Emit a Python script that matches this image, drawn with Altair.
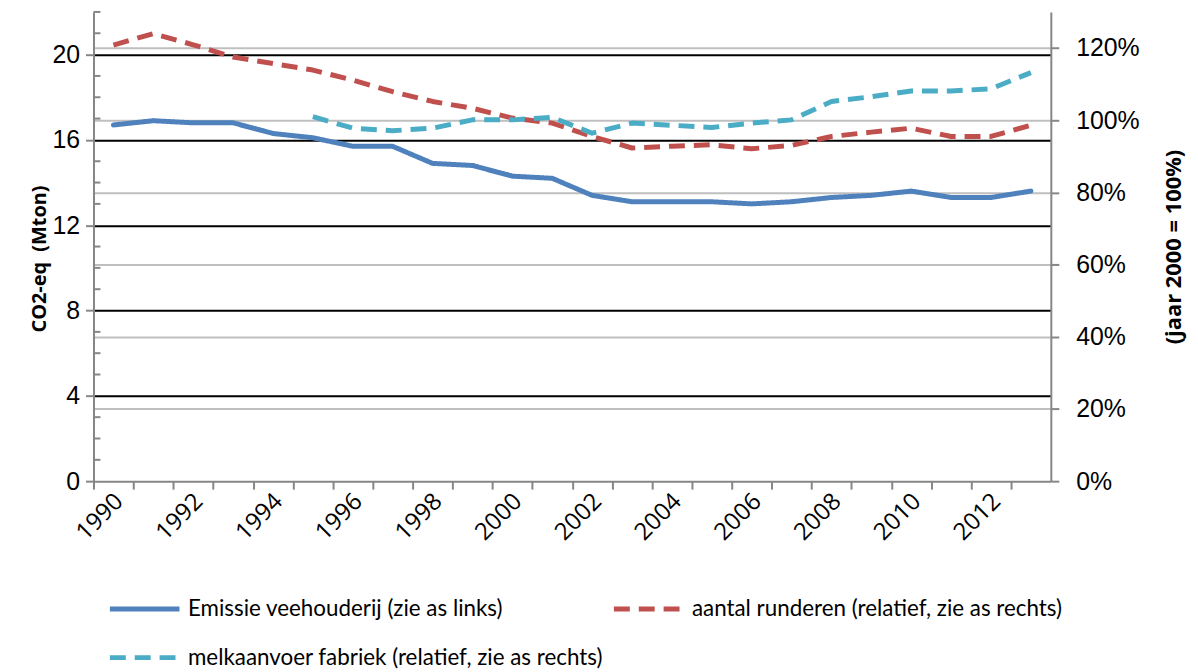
import altair as alt
import pandas as pd

years = list(range(1990, 2014))
emissie = [16.7, 16.9, 16.8, 16.8, 16.3, 16.1, 15.7, 15.7, 14.9, 14.8, 14.3, 14.2,
           13.4, 13.1, 13.1, 13.1, 13.0, 13.1, 13.3, 13.4, 13.6, 13.3, 13.3, 13.6]
runderen = [120.8, 124.0, 120.9, 117.5, 115.7, 113.9, 111.1, 107.9, 105.2, 103.3, 100.6, 99.2,
            95.5, 92.3, 92.8, 93.2, 92.1, 93.0, 95.5, 96.7, 97.8, 95.5, 95.5, 98.6]
melk_years = list(range(1995, 2014))
melk = [101.0, 97.8, 97.1, 97.8, 100.1, 100.1, 100.8, 96.4, 99.2, 98.6, 98.0, 99.2,
        100.1, 105.2, 106.5, 108.1, 108.1, 108.7, 113.2]

s1 = "Emissie veehouderij (zie as links)"
s2 = "aantal runderen (relatief, zie as rechts)"
s3 = "melkaanvoer fabriek (relatief, zie as rechts)"
series = [s1, s2, s3]
legend_order = [s1, s3, s2]
colors = ["#4F81BD", "#C0504D", "#4BACC6"]
dashes = [[1, 0], [16, 9], [16, 9]]

left_ticks = [0, 4, 8, 12, 16, 20]
left_minor = [v for v in range(1, 23) if v % 4]
right_ticks = [0, 0.2, 0.4, 0.6, 0.8, 1.0, 1.2]
x_tick_values = years + [2014]

rows = [{"year": y, "series": s1, "v": v} for y, v in zip(years, emissie)]
rows += [{"year": y, "series": s2, "v": v / 100} for y, v in zip(years, runderen)]
rows += [{"year": y, "series": s3, "v": v / 100} for y, v in zip(melk_years, melk)]
df = pd.DataFrame(rows)

W, H = 963, 472
half = W / 48
GRAY = "#868686"

x_enc = alt.X(
    "year:Q",
    scale=alt.Scale(domain=[1989.5, 2013.5], nice=False, zero=False),
    axis=alt.Axis(
        values=x_tick_values,
        labelExpr="datum.value % 2 == 0 && datum.value < 2014 ? datum.value : ''",
        tickOffset=-half, labelOffset=half - 3, labelAngle=-45,
        labelAlign="right", labelBaseline="top", labelPadding=0,
        tickSize=8, tickColor=GRAY, tickWidth=2,
        domainColor=GRAY, domainWidth=2, grid=False, title=None,
        labelFont="Open Sans", labelFontSize=24, labelColor="#000",
    ),
)

leg = alt.Legend(
    orient="none", legendX=14, legendY=563, columns=2, title=None, values=legend_order,
    symbolType="stroke", symbolSize=4900, symbolStrokeWidth=5,
    labelFont="Lato", labelFontSize=22.5, labelColor="#000",
    columnPadding=0, rowPadding=-21, labelOffset=6, labelLimit=700,
)
color_enc = alt.Color("series:N", scale=alt.Scale(domain=series, range=colors), legend=leg)
dash_enc = alt.StrokeDash("series:N", scale=alt.Scale(domain=series, range=dashes), legend=leg)

minor = alt.Chart(pd.DataFrame({"v": left_minor})).mark_rule(color=GRAY, strokeWidth=2).encode(
    y=alt.Y("v:Q", scale=alt.Scale(domain=[0, 22], nice=False), axis=None),
    x=alt.value(0), x2=alt.value(7),
)

left = alt.Chart(df).transform_filter(alt.datum.series == s1).mark_line(
    strokeWidth=5, strokeCap="round", strokeJoin="round"
).encode(
    x=x_enc,
    y=alt.Y("v:Q", scale=alt.Scale(domain=[0, 22], nice=False),
            axis=alt.Axis(
                orient="left", values=left_ticks, format="d",
                grid=True, gridColor="#000", gridWidth=2,
                gridOpacity={"condition": {"test": "datum.value === 0", "value": 0}, "value": 1},
                domainColor=GRAY, domainWidth=2, tickColor=GRAY, tickWidth=2, tickSize=8,
                labelFont="Liberation Sans", labelFontSize=25, labelColor="#000", labelPadding=6,
                title="CO2-eq\u00a0 (Mton)", titleFont="Open Sans", titleFontWeight="bold",
                titleFontSize=20, titleColor="#000", titleAngle=270, titleX=-54, titleY=248,
                titleAlign="center", titleBaseline="middle",
            )),
    color=color_enc, strokeDash=dash_enc,
)

right = alt.Chart(df).transform_filter(alt.datum.series != s1).mark_line(
    strokeWidth=5, strokeCap="butt", strokeJoin="round"
).encode(
    x=x_enc,
    y=alt.Y("v:Q", scale=alt.Scale(domain=[0, 1.3], nice=False),
            axis=alt.Axis(
                orient="right", values=right_ticks, format=".0%",
                grid=True, gridColor="#BFBFBF", gridWidth=2,
                gridOpacity={"condition": {"test": "datum.value === 0", "value": 0}, "value": 1},
                domainColor=GRAY, domainWidth=2, tickColor=GRAY, tickWidth=2, tickSize=8,
                labelFont="Liberation Sans", labelFontSize=25, labelColor="#000", labelPadding=17,
                title="(jaar 2000 = 100%)", titleFont="Open Sans", titleFontWeight="bold",
                titleFontSize=22, titleColor="#000", titleAngle=270, titleX=123, titleY=236,
                titleAlign="center", titleBaseline="middle",
            )),
    color=color_enc, strokeDash=dash_enc, detail="series:N",
)

chart = alt.layer(minor, left, right).resolve_scale(
    y="independent", color="shared", strokeDash="shared"
).properties(
    width=W, height=H,
    autosize=alt.AutoSizeParams(type="none"),
    padding={"left": 86, "top": 2, "right": 140, "bottom": 188},
    background="white",
).configure_view(stroke=None)

chart.save("out.html", embed_options={"renderer": "svg", "actions": False})
